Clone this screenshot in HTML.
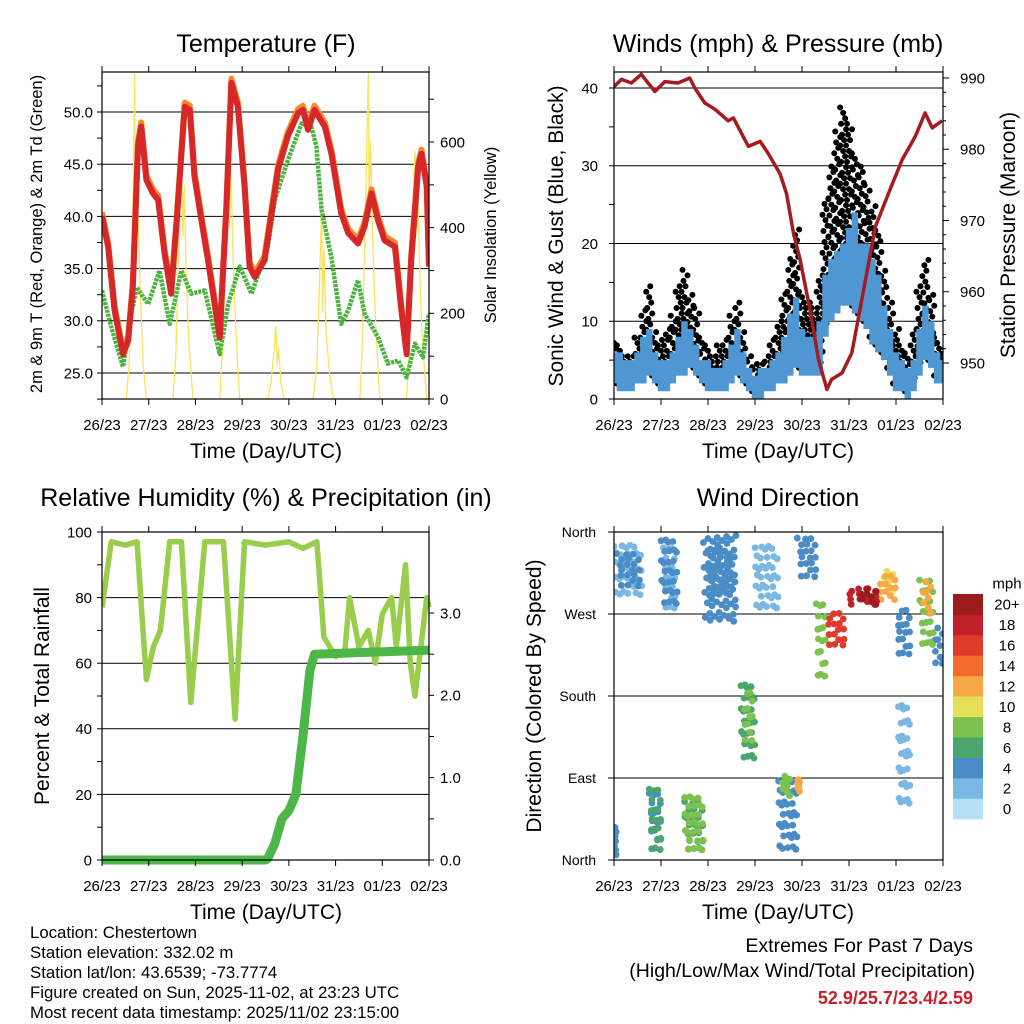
<!DOCTYPE html>
<html><head><meta charset="utf-8"><style>
body{margin:0;background:#fff}
svg{display:block;font-family:"Liberation Sans",sans-serif}
</style></head><body>
<svg id="s" width="1024" height="1024" viewBox="0 0 1024 1024">
<rect width="1024" height="1024" fill="#fff"/>
<g id="g1"></g>
<g id="g2"></g>
<g id="g3"></g>
<g id="g4"></g>
<g font-size="25" text-anchor="middle">
<text x="266" y="52">Temperature (F)</text>
<text x="778" y="52">Winds (mph) &amp; Pressure (mb)</text>
<text x="266" y="506">Relative Humidity (%) &amp; Precipitation (in)</text>
<text x="778" y="506">Wind Direction</text>
</g>
<g font-size="21" text-anchor="middle">
<text x="266" y="458">Time (Day/UTC)</text>
<text x="778" y="458">Time (Day/UTC)</text>
<text x="266" y="919">Time (Day/UTC)</text>
<text x="778" y="919">Time (Day/UTC)</text>
<text transform="translate(42,234) rotate(-90)" font-size="16.5">2m &amp; 9m T (Red, Orange) &amp; 2m Td (Green)</text>
<text transform="translate(496,235) rotate(-90)" font-size="16.5">Solar Insolation (Yellow)</text>
<text transform="translate(563,236) rotate(-90)">Sonic Wind &amp; Gust (Blue, Black)</text>
<text transform="translate(1015,235) rotate(-90)">Station Pressure (Maroon)</text>
<text transform="translate(49,696) rotate(-90)">Percent &amp; Total Rainfall</text>
<text transform="translate(541,696) rotate(-90)">Direction (Colored By Speed)</text>
</g>
<g font-size="16.8">
<text x="30" y="938">Location: Chestertown</text>
<text x="30" y="958">Station elevation: 332.02 m</text>
<text x="30" y="978">Station lat/lon: 43.6539; -73.7774</text>
<text x="30" y="998">Figure created on Sun, 2025-11-02, at 23:23 UTC</text>
<text x="30" y="1018">Most recent data timestamp: 2025/11/02 23:15:00</text>
</g>
<g font-size="19.5" text-anchor="end">
<text x="973" y="952">Extremes For Past 7 Days</text>
<text x="975" y="977">(High/Low/Max Wind/Total Precipitation)</text>
<text x="973" y="1004" font-weight="bold" font-size="18" fill="#c8202a">52.9/25.7/23.4/2.59</text>
</g>
</svg>
<script>
const NS='http://www.w3.org/2000/svg';
const dayLabels=['26/23','27/23','28/23','29/23','30/23','31/23','01/23','02/23'];
// Temperature (F)
const tempDays=[0,0.13,0.27,0.45,0.56,0.66,0.77,0.84,0.95,1.09,1.2,1.34,1.48,1.59,1.77,1.88,1.98,2.13,2.27,2.52,2.66,2.77,2.91,3.05,3.16,3.27,3.48,3.77,3.98,4.2,4.3,4.41,4.55,4.77,4.91,5.12,5.27,5.48,5.62,5.77,5.91,6.05,6.27,6.41,6.52,6.62,6.77,6.84,6.95,7.0];
const tempVals=[40,37.1,31,26.8,28.1,33.2,46.7,48.6,43.5,42.2,41.6,36.4,32.6,39,50.5,50.2,43.8,39.6,35.8,28.4,40.6,52.8,50.5,42.9,35.2,34.2,35.8,44.5,47.7,49.9,50.2,48.3,50.2,48.6,46,40.3,38.4,37.4,39,42.2,39.6,37.7,37.1,31,26.8,35.8,44.8,46,42.9,35.2];
const dewDays=[0,0.2,0.45,0.63,0.74,0.99,1.23,1.45,1.7,1.91,2.2,2.52,2.7,2.95,3.2,3.55,3.7,3.98,4.27,4.48,4.59,4.7,4.91,5.12,5.27,5.48,5.62,5.91,6.12,6.34,6.52,6.7,6.87,7];
const dewVals=[32.9,29.4,25.6,30.7,33.2,31.6,34.8,29.7,34.8,32.6,32.9,26.8,31.6,35.2,32.6,37.1,41.6,45.4,48.9,48.6,46.7,40.6,36.1,29.7,31,33.9,30.7,28.4,25.9,26.2,24.6,27.8,26.5,30.7];
const solarDays=[0.52,0.58,0.63,0.67,0.70,0.72,0.74,0.78,0.82,0.88,0.95,1.52,1.58,1.63,1.67,1.70,1.73,1.76,1.8,1.85,1.92,1.95,2.52,2.58,2.63,2.67,2.70,2.73,2.76,2.8,2.85,2.92,2.95,3.55,3.62,3.68,3.72,3.75,3.78,3.83,3.9,4.52,4.6,4.65,4.7,4.72,4.75,4.8,4.87,4.95,5.52,5.58,5.63,5.67,5.70,5.72,5.75,5.8,5.85,5.92,5.95,6.52,6.58,6.63,6.67,6.7,6.73,6.76,6.8,6.85,6.92,6.95];
const solarVals=[0,80,250,500,760,300,550,400,250,80,0,0,100,300,450,560,380,500,300,150,40,0,0,120,350,500,645,400,550,350,200,50,0,0,40,110,170,80,120,40,0,0,80,250,450,200,350,150,60,0,0,150,400,600,760,450,600,350,200,50,0,0,120,350,500,580,400,480,300,150,40,0];
// Winds (3-hourly slots)
const windLo=[2,1,1,1,2,2,3,2, 1,1,2,3,3,4,3,2, 1,1,1,1,2,3,2,1, 0,0,1,1,2,2,3,4, 3,3,3,3,8,10,11,12, 12,11,10,9,7,6,5,3, 1,1,0,1,3,5,4,2, 2];
const windHi=[6,6,5,5,6,8,9,6, 5,5,6,8,10,9,7,5, 5,4,4,5,7,9,6,4, 3,4,4,5,6,8,11,13, 9,8,8,10,16,18,19,20, 22,24,20,20,18,16,12,9, 6,5,4,5,9,12,10,6, 5];
const gustHi=[8,7,6,6,8,12,15,9, 8,9,11,15,17,14,12,8, 7,6,7,8,11,13,9,6, 5,5,6,8,10,14,18,22, 14,13,12,16,26,30,35,38, 36,32,30,28,25,22,17,13, 9,7,6,9,15,18,14,8, 7];
const presDays=[0,.16,.37,.58,.87,1.08,1.36,1.61,1.72,1.93,2.15,2.43,2.54,2.86,3.11,3.28,3.53,3.67,3.82,3.96,4.17,4.35,4.53,4.63,4.85,5.06,5.27,5.56,5.84,6.13,6.41,6.62,6.77,6.98];
const presVals=[988.8,989.8,989.3,990.5,988.1,989.5,989.3,990,988.6,986.5,985.6,984,984.4,980.4,981.1,979.4,976.6,973.8,968.2,964.5,957.5,950.5,946.3,947.7,948.6,951.4,958.8,969.1,973.8,978.5,981.8,985.1,983,984];
// RH & precip
const rhDays=[0,0.2,0.5,0.75,0.95,1.1,1.25,1.45,1.7,1.9,2.2,2.6,2.85,3.05,3.5,4.0,4.3,4.6,4.75,5.0,5.2,5.3,5.5,5.7,5.85,6.0,6.2,6.3,6.5,6.6,6.7,6.95,7];
const rhVals=[77,97,96,97,55,65,70,97,97,48,97,97,43,97,96,97,95,97,68,62,64,80,65,70,60,75,80,65,90,60,50,80,77];
const rainDays=[0,3.5,3.55,3.7,3.85,4.0,4.15,4.3,4.45,4.55,7];
const rainVals=[0,0,0.02,0.2,0.5,0.6,0.8,1.5,2.3,2.5,2.55];
// Wind direction clusters
const dirStart=[0,0.05,0,0.75,0.75,1.0,1.05,1.5,1.5,1.9,2.0,2.7,2.75,3.0,3.5,3.55,3.9,3.9,4.3,4.5,4.9,5.2,5.6,5.7,6.0,6.05,6.5,6.55,6.8];
const dirEnd=[0.6,0.55,0.05,1.0,1.0,1.35,1.3,1.9,1.9,2.6,2.5,3.0,2.95,3.5,3.9,3.75,3.95,4.3,4.5,4.9,5.6,5.6,6.0,5.95,6.3,6.3,6.8,6.75,7.0];
const dirLo=[290,300,5,10,10,280,275,10,10,260,290,110,130,275,10,70,75,310,200,235,280,280,285,295,225,60,235,270,215];
const dirHi=[350,340,40,85,80,358,350,75,70,358,345,200,190,350,95,95,90,358,290,275,300,300,315,320,280,180,315,310,260];
const dirSpeed=[2,4,3,6,4,4,2,8,5,3,4,5,7,2,4,8,12,3,7,15,18,20,12,9,4,2,8,11,4];
const cbLabels=['0','2','4','6','8','10','12','14','16','18','20+'];
const cbColors=['#b5e0f5','#7ab8e3','#4a8cc6','#4aa66c','#7dc24e','#e6e059','#f8a844','#f26a2c','#e03a2c','#c0202a','#9b1b1e'];

function el(tag,attrs,parent){const e=document.createElementNS(NS,tag);for(const k in attrs)e.setAttribute(k,attrs[k]);parent.appendChild(e);return e;}
function lin(d0,d1,r0,r1){return v=>r0+(v-d0)*(r1-r0)/(d1-d0);}
function pathOf(xs,ys,fx,fy){return xs.map((x,i)=>(i?'L':'M')+fx(x).toFixed(1)+','+fy(ys[i]).toFixed(1)).join('');}

function frame(g,L,R,T,B,prefix){
  for(let i=0;i<8;i++){const x=L+(R-L)*i/7;
    const tb=el('line',{x1:x,x2:x,y1:B,y2:B+6,stroke:'#000'},g);
    
    
    const tt=el('line',{x1:x,x2:x,y1:T,y2:T-6,stroke:'#000'},g);
    
    
    const t=el('text',{x:x,y:B+31,'font-size':15,'text-anchor':'middle'},g);t.textContent=dayLabels[i];
    
    
  }
}
function border(g,L,R,T,B,name){const r=el('rect',{x:L,y:T,width:R-L,height:B-T,fill:'none',stroke:'#000','stroke-width':1.2},g);
  
  }
function hgrid(g,L,R,y,name){const l=el('line',{x1:L,x2:R,y1:y,y2:y,stroke:'#000','stroke-width':1},g);
  
  }
function label(g,x,y,txt,anchor,name,size){size=size||15;const t=el('text',{x:x,y:y+size*0.36,'font-size':size,'text-anchor':anchor},g);t.textContent=txt;
  
  }

// ===== Panel 1 =====
(function(){const g=document.getElementById('g1');const L=102,R=429,T=72,B=399;
  const fx=lin(0,7,L,R),fy=lin(25,50,373,112),fs=lin(0,600,B,142);
  const cp=el('clipPath',{id:'c1'},g);el('rect',{x:L,y:T,width:R-L,height:B-T},cp);
  for(let v=25;v<=50;v+=5){hgrid(g,L,R,fy(v),'temp-gridline');label(g,93,fy(v),v.toFixed(1),'end','temp-y-tick-label');}
  for(let v=22.5;v<=52.5;v+=2.5){const l=el('line',{x1:L,x2:L-5,y1:fy(v),y2:fy(v),stroke:'#000'},g);}
  for(let v=0;v<=700;v+=100){const l=el('line',{x1:R,x2:R+5,y1:fs(v),y2:fs(v),stroke:'#000'},g);}
  for(let v=0;v<=600;v+=200)label(g,440,fs(v),String(v),'start','solar-y-tick-label');
  const pg=el('g',{'clip-path':'url(#c1)'},g);
  const s=el('path',{d:pathOf(solarDays,solarVals,fx,fs),fill:'none',stroke:'#f9e35a','stroke-width':1.3},pg);
  
  const o=el('path',{d:pathOf(tempDays,tempVals.map(v=>v+0.4),fx,fy),fill:'none',stroke:'#f08a30','stroke-width':6,'stroke-linejoin':'round'},pg);
  
  const d=el('path',{d:pathOf(dewDays,dewVals,fx,fy),fill:'none',stroke:'#4bb33e','stroke-width':4.5,'stroke-dasharray':'3 1','stroke-linejoin':'round'},pg);
  
  const r=el('path',{d:pathOf(tempDays,tempVals,fx,fy),fill:'none',stroke:'#d62828','stroke-width':6,'stroke-linejoin':'round'},pg);
  
  border(g,L,R,T,B,'temp-plot-frame');frame(g,L,R,T,B,'temp');
})();

// ===== Panel 2 =====
(function(){const g=document.getElementById('g2');const L=614,R=943,T=72,B=399;
  const fx=lin(0,7,L,R),fy=lin(0,40,B,88),fp=lin(950,990,363,78);
  const cp=el('clipPath',{id:'c2'},g);el('rect',{x:L,y:T,width:R-L,height:B-T},cp);
  for(let v=0;v<=40;v+=10){if(v>0)hgrid(g,L,R,fy(v),'wind-gridline');label(g,598,fy(v),String(v),'end','wind-y-tick-label');}
  for(let v=0;v<=40;v+=5){const l=el('line',{x1:L,x2:L-5,y1:fy(v),y2:fy(v),stroke:'#000'},g);}
  for(let v=950;v<=990;v+=2){const l=el('line',{x1:R,x2:R+(v%10==0?6:3),y1:fp(v),y2:fp(v),stroke:'#000'},g);}
  for(let v=950;v<=990;v+=10)label(g,960,fp(v),String(v),'start','pressure-y-tick-label');
  const pg=el('g',{'clip-path':'url(#c2)'},g);
  const gg=el('g',{fill:'#000'},pg);
  const bg=el('g',{fill:'#4f97d2'},pg);
  const offs=[-3,1,-1,3,-2,2,0];
  windHi.forEach((hi,i)=>{const xc=fx(i*3/24);const w=(R-L)/56+0.6;
    const lo=windLo[i],gh=gustHi[i];
    for(let v=lo+1,k=0;v<=gh;v+=0.7,k++){const c=el('circle',{cx:xc+offs[k%7],cy:fy(v),r:3},gg);
      }
    const rct=el('rect',{x:xc-w/2,y:fy(hi),width:w,height:fy(lo)-fy(hi)},bg);
    
  });
  const p=el('path',{d:pathOf(presDays,presVals,fx,fp),fill:'none',stroke:'#a51c20','stroke-width':3.5,'stroke-linejoin':'round'},pg);
  
  border(g,L,R,T,B,'winds-plot-frame');frame(g,L,R,T,B,'winds');
})();

// ===== Panel 3 =====
(function(){const g=document.getElementById('g3');const L=102,R=429,T=532,B=860;
  const fx=lin(0,7,L,R),fy=lin(0,100,B,T),fr=lin(0,3,B,613);
  const cp=el('clipPath',{id:'c3'},g);el('rect',{x:L,y:T-5,width:R-L+5,height:B-T+10},cp);
  for(let v=0;v<=100;v+=20){if(v>0&&v<100)hgrid(g,L,R,fy(v),'rh-gridline');label(g,92,fy(v),String(v),'end','rh-y-tick-label');}
  for(let v=0;v<=100;v+=10){const l=el('line',{x1:L,x2:L-5,y1:fy(v),y2:fy(v),stroke:'#000'},g);}
  for(let v=0;v<=3.2;v+=0.5){const l=el('line',{x1:R,x2:R+5,y1:fr(v),y2:fr(v),stroke:'#000'},g);}
  for(let v=0;v<=3;v+=1)label(g,440,fr(v),v.toFixed(1),'start','rain-y-tick-label');
  const pg=el('g',{'clip-path':'url(#c3)'},g);
  const h=el('path',{d:pathOf(rhDays,rhVals,fx,fy),fill:'none',stroke:'#9acd4c','stroke-width':5.5,'stroke-linejoin':'round'},pg);
  
  const r=el('path',{d:pathOf(rainDays,rainVals,fx,fr),fill:'none',stroke:'#4cb748','stroke-width':9,'stroke-linejoin':'round'},pg);
  
  border(g,L,R,T,B,'rh-plot-frame');frame(g,L,R,T,B,'rh');
})();

// ===== Panel 4 =====
(function(){const g=document.getElementById('g4');const L=614,R=943,T=532,B=860;
  const fx=lin(0,7,L,R),fy=lin(0,360,B,T);
  const names=['North','East','South','West','North'];
  for(let i=0;i<5;i++){const v=i*90;if(i>0&&i<4)hgrid(g,L,R,fy(v),'direction-gridline');label(g,596,fy(v),names[i],'end','direction-y-tick-label',14);
    const l=el('line',{x1:L,x2:L-6,y1:fy(v),y2:fy(v),stroke:'#000'},g);}
  const cp=el('clipPath',{id:'c4'},g);el('rect',{x:L,y:T-4,width:R-L,height:B-T+8},cp);
  const pg=el('g',{'clip-path':'url(#c4)'},g);
  const order=dirSpeed.map((s,i)=>i).sort((a,b)=>dirSpeed[a]-dirSpeed[b]);
  order.forEach(i=>{const x0=fx(dirStart[i]),x1=fx(dirEnd[i]),y0=fy(dirHi[i]),y1=fy(dirLo[i]);
    const n=Math.max(8,Math.round((x1-x0)*(y1-y0)/42));
    const col=cbColors[Math.min(10,Math.round(dirSpeed[i]/2))];
    for(let j=0;j<n;j++){const fxr=(j*0.7548777+0.17)%1,fyr=(j*0.5698403+0.41)%1;
      const c=el('circle',{cx:x0+fxr*(x1-x0),cy:y0+fyr*(y1-y0),r:3.4,fill:col},pg);
      }
  });
  border(g,L,R,T,B,'direction-plot-frame');frame(g,L,R,T,B,'direction');
  const cb=el('g',{},g);
  const bh=225/11;
  cbColors.forEach((c,i)=>{const y=819-(i+1)*bh;
    const r=el('rect',{x:953,y:y,width:30,height:bh+0.3,fill:c},cb);
    
    label(cb,1007,y+bh/2,cbLabels[i],'middle','colorbar-label',15);});
  label(cb,1007,583,'mph','middle','colorbar-unit',15);
})();
</script>
</body></html>
